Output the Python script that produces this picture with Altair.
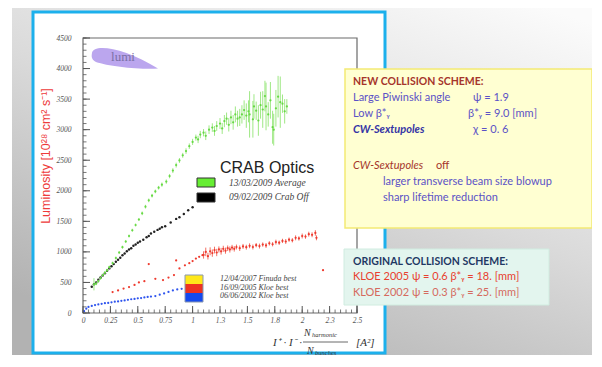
import altair as alt
import pandas as pd

# ---------------- data ----------------
green_x = [0.10, 0.12, 0.14, 0.16, 0.18, 0.20, 0.22, 0.24,
           0.27, 0.30, 0.33, 0.36, 0.39, 0.42, 0.45, 0.48, 0.51, 0.54, 0.57, 0.60, 0.63, 0.66, 0.69, 0.72,
           0.76, 0.79, 0.82, 0.85, 0.88, 0.91, 0.94, 0.97, 1.00, 1.03,
           1.05, 1.07, 1.10, 1.12, 1.15, 1.18, 1.20, 1.22, 1.25, 1.27, 1.29, 1.31, 1.33, 1.35, 1.37, 1.39,
           1.41, 1.43, 1.45, 1.47, 1.49, 1.51,
           1.52, 1.55, 1.56, 1.58, 1.60, 1.62, 1.64, 1.66, 1.67, 1.69, 1.71, 1.73, 1.74, 1.76, 1.78, 1.80,
           1.82, 1.84, 1.86]
green_y = [470, 480, 520, 570, 620, 660, 700, 750,
           815, 900, 990, 1077, 1170, 1260, 1354, 1440, 1530, 1631, 1740, 1843, 1920, 1990, 2050, 2100,
           2150, 2240, 2330, 2420, 2496, 2580, 2650, 2730, 2800, 2870,
           2840, 2920, 2950, 2900, 3000, 3034, 2980, 3060, 3100, 3020, 3140, 3180, 3080, 3200, 3120, 3250,
           3180, 3200, 3250, 3320, 3230, 3300,
           3250, 3170, 3380, 3310, 3150, 3400, 3330, 3550, 3380, 3250, 3480, 3040, 3000, 3350, 3540, 3450,
           3425, 3300, 3380]
green_err = [100, 25, 25, 25, 25, 25, 25, 25,
             25, 25, 25, 25, 25, 25, 25, 25, 25, 30, 30, 30, 30, 30, 30, 35,
             35, 35, 40, 40, 40, 40, 45, 45, 50, 50,
             60, 60, 60, 70, 70, 70, 80, 80, 90, 90, 100, 100, 110, 110, 120, 130,
             130, 140, 150, 160, 200, 180,
             380, 300, 200, 150, 250, 220, 300, 250, 390, 200, 300, 270, 260, 300, 340, 420,
             150, 200, 120]

black_x = [0.08, 0.10, 0.12, 0.14, 0.16, 0.18, 0.20, 0.22, 0.24, 0.26,
           0.28, 0.30, 0.32, 0.34, 0.36, 0.38, 0.40, 0.42, 0.44, 0.46,
           0.48, 0.50, 0.52, 0.55, 0.58, 0.60, 0.62, 0.65, 0.68, 0.70,
           0.72, 0.75, 0.80, 0.85, 0.88, 0.92, 0.96, 1.00]
black_y = [430, 470, 500, 545, 580, 615, 650, 690, 730, 765,
           800, 840, 870, 905, 946, 975, 1010, 1040, 1060, 1100,
           1120, 1150, 1170, 1200, 1240, 1260, 1300, 1330, 1360, 1380,
           1403, 1420, 1480, 1540, 1566, 1620, 1680, 1729]

red_x = [0.27, 0.32, 0.37, 0.42, 0.47, 0.51, 0.56, 0.60, 0.66, 0.73,
         0.78, 0.83, 0.85, 0.88, 0.93, 0.97, 1.00, 1.03, 1.06, 1.09,
         1.10, 1.12, 1.14, 1.16, 1.18, 1.20, 1.22, 1.24, 1.26, 1.28, 1.30, 1.32, 1.34, 1.36, 1.38, 1.40,
         1.43, 1.46, 1.49, 1.52, 1.55, 1.58, 1.61, 1.64, 1.67, 1.70, 1.73, 1.76, 1.79, 1.82, 1.85, 1.88,
         1.91, 1.94, 1.97, 2.00, 2.03, 2.06, 2.09, 2.12,
         2.13, 2.19]
red_y = [342, 370, 400, 424, 460, 500, 520, 800, 560, 538,
         580, 620, 860, 730, 780, 815, 850, 890, 920, 946,
         950, 1000, 930, 1010, 980, 1030, 990, 1040, 1010, 1050, 1020, 1060, 1040, 1070, 1050, 1080,
         1060, 1090, 1077, 1100, 1080, 1110, 1095, 1120, 1105, 1140, 1125, 1160, 1150, 1180, 1170, 1200,
         1190, 1230, 1220, 1260, 1250, 1290, 1280, 1310,
         1230, 700]
red_err = [0, 0, 0, 0, 0, 0, 0, 0, 0, 0,
           0, 0, 0, 0, 0, 0, 0, 0, 0, 0,
           60, 70, 55, 65, 60, 55, 60, 50, 55, 50, 50, 45, 50, 45, 45, 40,
           45, 40, 40, 40, 40, 35, 40, 35, 40, 35, 35, 40, 35, 35, 40, 35,
           35, 40, 35, 40, 35, 40, 40, 45,
           40, 0]

blue_x = [0.01, 0.03, 0.05, 0.08, 0.11, 0.14, 0.17, 0.20, 0.23, 0.26,
          0.29, 0.32, 0.35, 0.38, 0.41, 0.44, 0.47, 0.50, 0.53, 0.56,
          0.59, 0.62, 0.66, 0.70, 0.74, 0.78, 0.82, 0.86, 0.90]
blue_y = [30, 70, 100, 115, 130, 140, 150, 160, 165, 175,
          185, 190, 200, 205, 215, 225, 230, 240, 245, 255,
          262, 268, 278, 300, 320, 345, 370, 385, 395]

x_ticks = [0, 0.25, 0.5, 0.75, 1, 1.25, 1.5, 1.75, 2, 2.25, 2.5]
y_ticks = [0, 500, 1000, 1500, 2000, 2500, 3000, 3500, 4000, 4500]
x_minor = [round(i * 0.05, 2) for i in range(51)]
y_minor = [i * 100 for i in range(46)]

crab_labels = ["13/03/2009 Average", "09/02/2009 Crab Off"]
old_labels = ["12/04/2007 Finuda best", "16/09/2005 Kloe best", "06/06/2002 Kloe best"]

# ---------------- layout ----------------
OX, OY = 83, 38          # page position of the plot origin
W, H = 274, 275          # plot area

one = pd.DataFrame({"k": [0]})


def vx(p):
    return alt.value(p - OX)


def vy(p):
    return alt.value(p - OY)


def rect(x1, y1, x2, y2, **kw):
    return alt.Chart(one).mark_rect(**kw).encode(x=vx(x1), x2=vx(x2), y=vy(y1), y2=vy(y2))


def label(s, x, y, **kw):
    opts = dict(align="left", baseline="middle", font="Lato", fontSize=11)
    opts.update(kw)
    return alt.Chart(one).mark_text(text=s, **opts).encode(x=vx(x), y=vy(y))


xs = alt.Scale(domain=[0, 2.5], nice=False, zero=False)
ys = alt.Scale(domain=[0, 4500], nice=False, zero=False)
ax_common = dict(title="", domain=False, ticks=False, grid=False,
                 labelFont="Liberation Serif", labelFontStyle="italic", labelFontSize=7.5,
                 labelColor="#555555", labelFlush=False, labelOverlap=False, zindex=1)
xaxis = alt.Axis(values=x_ticks, labelPadding=3, format="~g", **ax_common)
yaxis = alt.Axis(values=y_ticks, labelPadding=12, format="d", **ax_common)


def X(f):
    return alt.X(f"{f}:Q", scale=xs, axis=xaxis)


def Y(f):
    return alt.Y(f"{f}:Q", scale=ys, axis=yaxis)


# background & panel
bg = rect(12, 3, 592, 355, fill=alt.LinearGradient(
    gradient="linear",
    stops=[alt.GradientStop(color="#fbfbfb", offset=0),
           alt.GradientStop(color="#dadada", offset=0.5),
           alt.GradientStop(color="#b2b2b2", offset=1)],
    x1=0.9, y1=0, x2=0.3, y2=1))
panel = rect(33, 12, 385, 353, fill="white", stroke="#1cb0ec", strokeWidth=3)

logo_path = ("M -1 -0.15 C -0.95 -0.45 0.0 -0.3 1 0.32 C 0.4 0.35 -0.5 0.25 -0.88 0.12 "
             "C -1.02 0.05 -1.02 -0.05 -1 -0.15 Z")
logo = alt.Chart(one).mark_point(shape=logo_path, filled=True, size=66 * 66,
                                 color="#b49cec", opacity=0.9).encode(x=vx(125), y=vy(58))
logo_txt = label("lumi", 123, 57, align="center", font="Liberation Serif", fontSize=13, color="#7a70a6")

frame = rect(OX, OY, OX + W, OY + H, fillOpacity=0, stroke="#6a6a6a", strokeWidth=1.2)

# data layers
gdf = pd.DataFrame({"x": green_x, "y": green_y, "e": green_err})
gdf["lo"] = gdf["y"] - gdf["e"]
gdf["hi"] = gdf["y"] + gdf["e"]
rdf = pd.DataFrame({"x": red_x, "y": red_y, "e": red_err})
rdf["lo"] = rdf["y"] - rdf["e"]
rdf["hi"] = rdf["y"] + rdf["e"]
bdf = pd.DataFrame({"x": black_x, "y": black_y})
udf = pd.DataFrame({"x": blue_x, "y": blue_y})

blue_pts = alt.Chart(udf).mark_point(filled=True, size=5, color="#2f55ee", opacity=1).encode(x=X("x"), y=Y("y"))
red_bars = alt.Chart(rdf[rdf["e"] > 0]).mark_rule(color="#ef4a3a", strokeWidth=0.8).encode(
    x=X("x"), y=Y("lo"), y2=alt.Y2("hi"))
red_pts = alt.Chart(rdf).mark_point(filled=True, size=5, color="#ee3a2e", opacity=1).encode(x=X("x"), y=Y("y"))
black_pts = alt.Chart(bdf).mark_point(filled=True, size=6, color="#222222", opacity=1).encode(x=X("x"), y=Y("y"))
green_bars = alt.Chart(gdf).mark_rule(color="#86e266", strokeWidth=0.8).encode(
    x=X("x"), y=Y("lo"), y2=alt.Y2("hi"))
green_pts = alt.Chart(gdf).mark_point(filled=True, size=5, color="#66d944", opacity=1).encode(x=X("x"), y=Y("y"))

# inward ticks (ROOT style)
ymaj = alt.Chart(pd.DataFrame({"y": y_ticks})).mark_rule(color="#555", strokeWidth=1).encode(
    y=Y("y"), x=alt.value(0), x2=alt.value(7))
ymin = alt.Chart(pd.DataFrame({"y": y_minor})).mark_rule(color="#555", strokeWidth=0.8).encode(
    y=Y("y"), x=alt.value(0), x2=alt.value(3.5))
xmaj = alt.Chart(pd.DataFrame({"x": x_ticks})).mark_rule(color="#555", strokeWidth=1).encode(
    x=X("x"), y=alt.value(H), y2=alt.value(H - 7))
xmin = alt.Chart(pd.DataFrame({"x": x_minor})).mark_rule(color="#555", strokeWidth=0.8).encode(
    x=X("x"), y=alt.value(H), y2=alt.value(H - 3.5))

# legends
serif_it = dict(font="Liberation Serif", fontStyle="italic", color="#444444")
legends = [
    label("CRAB Optics", 220, 168, font="Liberation Sans", fontSize=16, color="#222222"),
    rect(197, 178, 215, 187, fill="#66ee33", stroke="#333333", strokeWidth=1),
    rect(197, 193, 215, 202, fill="#000000", stroke="#333333", strokeWidth=1),
    label(crab_labels[0], 229, 183, fontSize=9.5, **serif_it),
    label(crab_labels[1], 229, 197, fontSize=9.5, **serif_it),
    rect(185, 275, 203, 284, fill="#ffe81a"),
    rect(185, 284, 203, 293, fill="#ee3322"),
    rect(185, 293, 203, 302, fill="#1449ee"),
    rect(185, 275, 203, 302, fillOpacity=0, stroke="#8a98b0", strokeWidth=1),
    label(old_labels[0], 220, 279, fontSize=8, **serif_it),
    label(old_labels[1], 220, 287.5, fontSize=8, **serif_it),
    label(old_labels[2], 220, 296, fontSize=8, **serif_it),
]

# axis titles
ytitle = label("Luminosity [10²⁸ cm² s⁻¹]", 46, 156, align="center", angle=270,
               font="Liberation Sans", fontSize=12.5, color="#ee3b3b")
xt = dict(font="Liberation Serif", fontStyle="italic", color="#333333")
xtitle = [
    label("I⁺ · I⁻ ·", 273, 343, fontSize=11, **xt),
    label("N", 304, 333, fontSize=10, **xt),
    label("harmonic", 312, 335, fontSize=6.5, **xt),
    alt.Chart(one).mark_rule(color="#444444", strokeWidth=0.8).encode(x=vx(303), x2=vx(348), y=vy(342)),
    label("N", 307, 351, fontSize=10, **xt),
    label("bunches", 315, 353, fontSize=6.5, **xt),
    label("[A²]", 356, 343, fontSize=11, **xt),
]

# text boxes
purple = "#5b52c6"
dred = "#a5352b"
boxes = [
    rect(345, 69, 592, 228, fill="#ffffd2", stroke="#f3ea74", strokeWidth=1.5),
    label("NEW COLLISION SCHEME:", 353, 82, fontSize=10.5, fontWeight="bold", color=dred),
    label("Large Piwinski angle", 353, 98, color=purple),
    label("ψ = 1.9", 473, 98, color=purple),
    label("Low β*ᵧ", 353, 114, color=purple),
    label("β*ᵧ  = 9.0 [mm]", 468, 114, color=purple),
    label("CW-Sextupoles", 353, 130, fontWeight="bold", fontStyle="italic", color="#3535a5"),
    label("χ = 0. 6", 473, 130, color=purple),
    label("CW-Sextupoles", 353, 166, fontStyle="italic", color=dred),
    label("off", 436, 166, color=dred),
    label("larger transverse beam size blowup", 383, 182, color=purple),
    label("sharp lifetime reduction", 383, 198, color=purple),
    rect(344, 249, 549, 305, fill="#e3f5ee", stroke="#d0ece0", strokeWidth=1),
    label("ORIGINAL COLLISION SCHEME:", 353, 262, fontSize=10.5, fontWeight="bold", color="#1f3864"),
    label("KLOE 2005 ψ = 0.6 β*ᵧ = 18. [mm]", 353, 277, color="#e8402f"),
    label("KLOE 2002 ψ = 0.3 β*ᵧ = 25. [mm]", 353, 293, color="#d56a5e"),
]

layers = ([bg, panel, logo, logo_txt, frame,
           blue_pts, red_bars, red_pts, black_pts, green_bars, green_pts,
           ymaj, ymin, xmaj, xmin] + legends + [ytitle] + xtitle + boxes)

chart = alt.layer(*layers).properties(
    width=W, height=H,
    autosize=alt.AutoSizeParams(type="none"),
    padding={"left": OX - 8, "top": OY - 8, "right": 584 - (OX - 8) - W, "bottom": 347 - (OY - 8) - H},
    background="white",
).configure_view(strokeWidth=0)

chart.save("out.html", embed_options={"renderer": "svg", "actions": False})
